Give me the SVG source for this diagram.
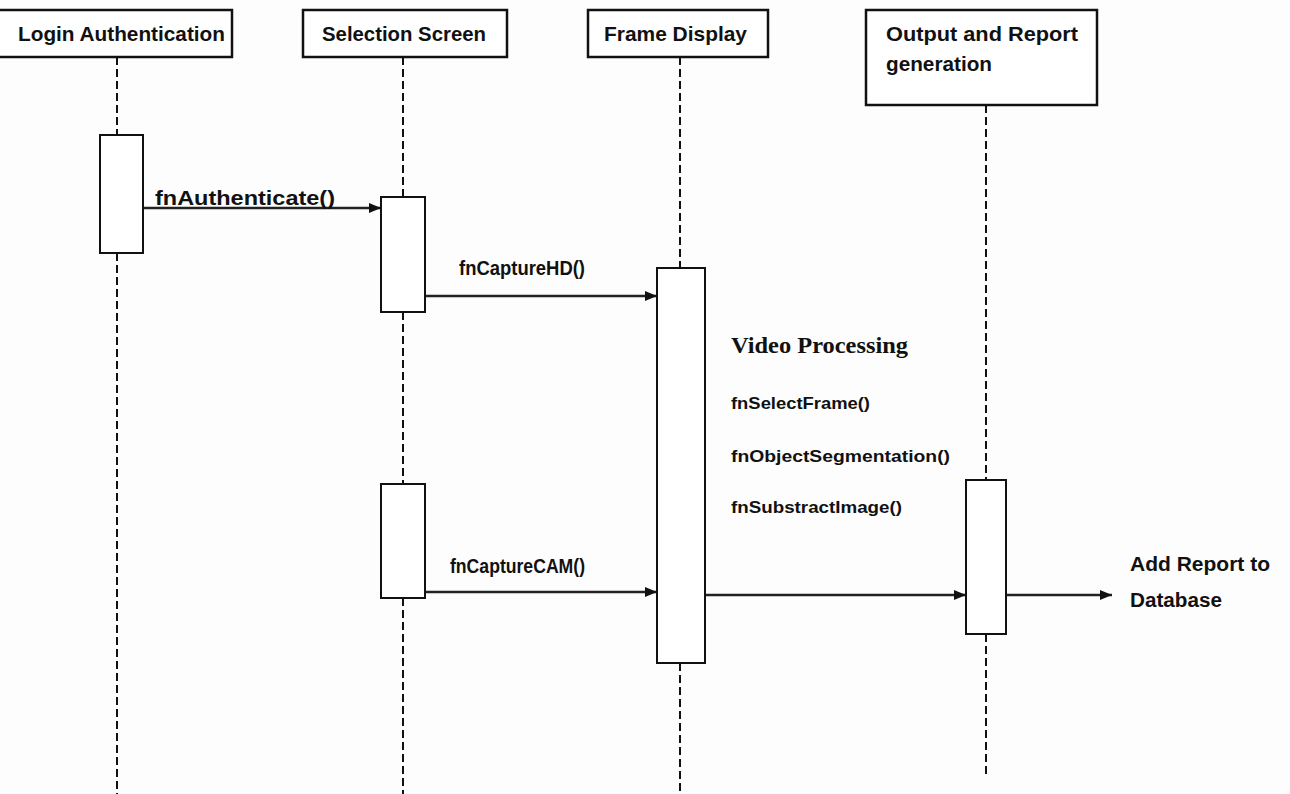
<svg xmlns="http://www.w3.org/2000/svg" width="1290" height="794" viewBox="0 0 1290 794">
  <defs>
    <marker id="head" viewBox="0 0 12 10" refX="12" refY="5" markerWidth="12" markerHeight="10" markerUnits="userSpaceOnUse" orient="auto">
      <path d="M0,0 L12,5 L0,10 z" fill="#111"/>
    </marker>
    <style>
      .box { fill: #fff; stroke: #111; stroke-width: 2.5; }
      .act { fill: #fff; stroke: #111; stroke-width: 2; }
      .life { stroke: #111; stroke-width: 2; stroke-dasharray: 8 4; fill: none; }
      .msg { stroke: #222; stroke-width: 2.5; fill: none; marker-end: url(#head); }
      .hdr { font-family: "Liberation Sans", "DejaVu Sans", sans-serif; font-weight: bold; font-size: 21px; fill: #111; }
      .lbl { font-family: "Liberation Sans", "DejaVu Sans", sans-serif; font-weight: bold; font-size: 20px; fill: #111; }
      .sm { font-family: "Liberation Sans", "DejaVu Sans", sans-serif; font-weight: bold; font-size: 17px; fill: #111; }
      .ser { font-family: "Liberation Serif", serif; font-weight: bold; font-size: 23px; fill: #111; }
    </style>
  </defs>
  <rect width="1290" height="794" fill="#fdfdfd"/>

  <!-- lifelines and messages -->
  <g id="connectors">
    <line class="life" x1="117" y1="57" x2="117" y2="135"/>
    <line class="life" x1="117" y1="253" x2="117" y2="794"/>
    <line class="life" x1="403" y1="57" x2="403" y2="197"/>
    <line class="life" x1="403" y1="312" x2="403" y2="484"/>
    <line class="life" x1="403" y1="598" x2="403" y2="794"/>
    <line class="life" x1="680" y1="57" x2="680" y2="268"/>
    <line class="life" x1="680" y1="663" x2="680" y2="794"/>
    <line class="life" x1="986" y1="105" x2="986" y2="480"/>
    <line class="life" x1="986" y1="634" x2="986" y2="776"/>

    <line class="msg" x1="143" y1="208" x2="381" y2="208"/>
    <line class="msg" x1="425" y1="296" x2="657" y2="296"/>
    <line class="msg" x1="425" y1="592" x2="657" y2="592"/>
    <line class="msg" x1="705" y1="595" x2="966" y2="595"/>
    <line class="msg" x1="1006" y1="595" x2="1112" y2="595"/>

    <text class="lbl" x="155" y="205" textLength="180" lengthAdjust="spacingAndGlyphs">fnAuthenticate()</text>
    <text class="lbl" x="459" y="275" textLength="126" lengthAdjust="spacingAndGlyphs">fnCaptureHD()</text>
    <text class="lbl" x="450" y="573" textLength="135" lengthAdjust="spacingAndGlyphs">fnCaptureCAM()</text>
  </g>

  <g id="login-authentication">
    <rect class="box" x="-2" y="10" width="234" height="47"/>
    <text class="hdr" x="18" y="41" textLength="207" lengthAdjust="spacingAndGlyphs">Login Authentication</text>
    <rect class="act" x="100" y="135" width="43" height="118"/>
  </g>

  <g id="selection-screen">
    <rect class="box" x="303" y="10" width="204" height="47"/>
    <text class="hdr" x="322" y="41" textLength="164" lengthAdjust="spacingAndGlyphs">Selection Screen</text>
    <rect class="act" x="381" y="197" width="44" height="115"/>
    <rect class="act" x="381" y="484" width="44" height="114"/>
  </g>

  <g id="frame-display">
    <rect class="box" x="588" y="10" width="180" height="47"/>
    <text class="hdr" x="604" y="41" textLength="143" lengthAdjust="spacingAndGlyphs">Frame Display</text>
    <rect class="act" x="657" y="268" width="48" height="395"/>
    <text class="ser" x="731" y="353" textLength="177" lengthAdjust="spacingAndGlyphs">Video Processing</text>
    <text class="sm" x="731" y="409" textLength="139" lengthAdjust="spacingAndGlyphs">fnSelectFrame()</text>
    <text class="sm" x="731" y="462" textLength="219" lengthAdjust="spacingAndGlyphs">fnObjectSegmentation()</text>
    <text class="sm" x="731" y="513" textLength="171" lengthAdjust="spacingAndGlyphs">fnSubstractImage()</text>
  </g>

  <g id="output-report">
    <rect class="box" x="866" y="10" width="231" height="95"/>
    <text class="hdr" x="886" y="41" textLength="192" lengthAdjust="spacingAndGlyphs">Output and Report</text>
    <text class="hdr" x="886" y="71" textLength="106" lengthAdjust="spacingAndGlyphs">generation</text>
    <rect class="act" x="966" y="480" width="40" height="154"/>
  </g>

  <g id="database">
    <text class="lbl" x="1130" y="571" textLength="140" lengthAdjust="spacingAndGlyphs">Add Report to</text>
    <text class="lbl" x="1130" y="607" textLength="92" lengthAdjust="spacingAndGlyphs">Database</text>
  </g>
</svg>
